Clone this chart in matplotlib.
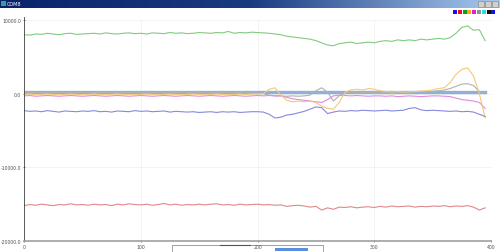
import numpy as np
import matplotlib
matplotlib.use("Agg")
import matplotlib.pyplot as plt
from matplotlib.patches import Rectangle
from matplotlib.colors import LinearSegmentedColormap

# ---------------- data ----------------
x_values = list(range(0, 400, 5))

ch_blue = [-2300, -2400, -2350, -2450, -2300, -2400, -2500, -2350, -2400, -2450, -2350,
           -2400, -2300, -2450, -2400, -2500, -2350, -2400, -2450, -2300, -2400,
           -2350, -2450, -2400, -2350, -2500, -2400, -2450, -2500, -2450, -2550,
           -2500, -2450, -2550, -2450, -2500, -2450, -2550, -2500, -2450, -2450,
           -2500, -2800, -3300, -3200, -2900, -2800, -2600, -2400, -2100, -1800,
           -1900, -2700, -2500, -2350, -2400, -2300, -2350, -2250, -2300, -2350,
           -2300, -2250, -2350, -2300, -2250, -2000, -1900, -2200, -2300, -2250,
           -2300, -2350, -2400, -2350, -2450, -2400, -2500, -2800, -3100]

ch_red = [-15200, -15050, -15150, -15000, -15100, -15200, -15050, -15100, -14950, -15100, -15050,
          -15150, -15000, -15100, -15050, -15200, -15000, -15100, -14950, -15050, -15100,
          -15000, -15150, -15050, -14900, -15100, -15000, -15150, -15050, -15100, -15000,
          -15100, -15000, -14950, -15100, -15050, -15150, -15000, -15100, -15050, -15000,
          -15100, -15050, -15150, -15100, -15300, -15200, -15150, -15250, -15400, -15300,
          -15800, -15500, -15700, -15400, -15450, -15350, -15500, -15400, -15350, -15450,
          -15300, -15400, -15250, -15350, -15300, -15250, -15400, -15300, -15350, -15250,
          -15300, -15200, -15350, -15250, -15300, -15200, -15400, -15800, -15500]

ch_green = [8000, 7950, 8100, 8050, 8200, 8100, 8000, 8150, 8200, 8050, 8100,
            8150, 8200, 8100, 8250, 8150, 8100, 8200, 8250, 8150, 8200,
            8100, 8250, 8200, 8150, 8300, 8200, 8250, 8150, 8200, 8300,
            8250, 8200, 8300, 8250, 8450, 8200, 8300, 8250, 8350, 8300,
            8250, 8200, 8100, 8000, 7800, 7700, 7600, 7500, 7400, 7200,
            6900, 6600, 6500, 6800, 6900, 7000, 6800, 6900, 7000, 6900,
            7100, 7200, 7100, 7300, 7200, 7300, 7200, 7400, 7300, 7400,
            7500, 7400, 7600, 8200, 9000, 9200, 8600, 8700, 7200]

ch_orange = [-100, -50, -150, -100, -50, -100, -150, -100, -50, -100, -150,
             -100, -50, -100, -150, -100, -50, -100, -100, -150, -100,
             -50, -100, -150, -100, -50, -100, -150, -100, -50, -100,
             -150, -100, -50, -100, -150, -100, -50, -100, -50, -50,
             0, 600, 800, -200, -900, -1100, -1000, -1100, -1000, -1200,
             -1700, -2000, -2100, -1200, 200, 500, 600, 500, 700, 600,
             400, 300, 200, 300, 200, 250, 300, 350, 400, 500,
             700, 800, 1500, 2600, 3300, 3500, 2400, 0, -3300]

ch_magenta = [-300, -250, -350, -300, -250, -300, -350, -300, -250, -300, -350,
              -300, -250, -300, -350, -300, -250, -300, -350, -300, -250,
              -300, -350, -300, -250, -300, -350, -300, -250, -300, -350,
              -300, -250, -300, -350, -300, -250, -300, -350, -300, -250,
              -300, -250, -300, -300, -500, -700, -800, -900, -1000, -1100,
              -1200, -800, -300, -200, -250, -300, -250, -300, -350, -300,
              -300, -350, -300, -400, -350, -300, -350, -400, -350, -300,
              -300, -350, -400, -600, -800, -900, -1000, -1200, -2000]

ch_gray = [150, 200, 150, 100, 150, 200, 150, 100, 150, 200, 150,
           100, 150, 200, 150, 100, 150, 200, 150, 100, 150,
           200, 150, 100, 150, 200, 150, 100, 150, 200, 150,
           100, 150, 200, 150, 100, 150, 200, 150, 100, 100,
           0, -200, -300, -300, -350, -300, -350, -300, -200, 400,
           800, 200, -1000, -300, 100, 150, 200, 150, 100, 150,
           200, 150, 100, 150, 200, 250, 200, 300, 250, 300,
           400, 500, 700, 1000, 1300, 1350, 1100, 300, 100]

ch_cyan = [250] * 80

ch_black = [100, 120, 80, 100, 110, 90, 100, 120, 80, 100, 110,
            90, 100, 120, 80, 100, 110, 90, 100, 120, 80,
            100, 110, 90, 100, 120, 80, 100, 110, 90, 100,
            120, 80, 100, 110, 90, 100, 120, 80, 100, 110,
            90, 100, 120, 80, 100, 110, 90, 100, 120, 80,
            100, 110, 90, 100, 120, 80, 100, 110, 90, 100,
            120, 80, 100, 110, 90, 100, 120, 80, 100, 110,
            90, 100, 120, 80, 100, 110, 90, 100, 120]

ch_blue2 = [200] * 80

y_ticks = [-20000, -10000, 0, 10000]
y_tick_labels = ["-20000.0", "-10000.0", "0.0", "10000.0"]
x_ticks = [0, 100, 200, 300, 400]
x_tick_labels = ["0", "100", "200", "300", "400"]
window_title = "COM8"

series = [
    (ch_blue2, "#9aa0e8", 0.8),
    (ch_black, "#505060", 0.7),
    (ch_cyan, "#8fb0d8", 2.4),
    (ch_gray, "#b0b0b0", 0.8),
    (ch_magenta, "#e08ae0", 0.8),
    (ch_orange, "#f5c878", 0.8),
    (ch_green, "#80cc80", 0.8),
    (ch_red, "#e08888", 0.8),
    (ch_blue, "#8888e0", 0.8),
]
legend_colors = ["#1010f0", "#f01010", "#10a010", "#ffa020", "#e020e0",
                 "#909090", "#20e0e0", "#101010", "#1010f0"]

# ---------------- figure ----------------
W, H = 500, 253
fig = plt.figure(figsize=(W / 100, H / 100), dpi=100)
fig.patch.set_facecolor("white")

# overlay (pixel coords) for window chrome
ov = fig.add_axes([0, 0, 1, 1])
ov.set_xlim(0, W)
ov.set_ylim(H, 0)
ov.axis("off")
grad = np.linspace(0, 1, 256).reshape(1, -1)
cmap = LinearSegmentedColormap.from_list("tb", ["#0a246a", "#1a3a80", "#a6caf0"])
ov.imshow(grad, extent=[0, W, 9, 0], aspect="auto", cmap=cmap, zorder=1)
ov.add_patch(Rectangle((1, 2), 5, 5, facecolor="#30a0a0", edgecolor="none", zorder=2))
ov.text(7, 4.6, window_title, color="white", fontsize=3.5, va="center", ha="left", zorder=3)
for bx in (478, 485, 492):
    ov.add_patch(Rectangle((bx, 1.5), 6, 6, facecolor="#d4d0c8", edgecolor="#808080",
                           linewidth=0.4, zorder=2))
for i, c in enumerate(legend_colors):
    ov.add_patch(Rectangle((453 + i * 4.8, 11), 4, 4, facecolor=c, edgecolor="none", zorder=2))
# scrollbar
ov.plot([172, 172, 323, 323], [252, 246, 246, 252], color="#909090", linewidth=0.6, zorder=2)
ov.plot([220, 250], [246.3, 246.3], color="#505050", linewidth=0.8, zorder=2)
ov.add_patch(Rectangle((275, 249), 33, 3, facecolor="#5a8ee0", edgecolor="none", zorder=2))

# main plot
ax = fig.add_axes([24 / W, 1 - 242 / H, (491 - 24) / W, (242 - 21) / H])
ax.set_facecolor("none")
ax.set_xlim(0, 400)
ax.set_ylim(-20000, 10000)
for data, color, lw in series:
    ax.plot(x_values[:len(data)], data, color=color, linewidth=lw)

ax.set_yticks(y_ticks)
ax.set_yticklabels(y_tick_labels)
ax.set_xticks(x_ticks)
ax.set_xticklabels(x_tick_labels)
ax.tick_params(axis="both", labelsize=3.3, colors="#505050", length=2, width=0.5, pad=1,
               direction="inout")
ax.grid(True, color="#eeeeee", linewidth=0.5)
for s in ("top", "right"):
    ax.spines[s].set_visible(False)
ax.spines["left"].set_color("#404040")
ax.spines["left"].set_linewidth(0.6)
ax.spines["left"].set_bounds(-20000, 10400)
ax.spines["bottom"].set_color("#a0a0a0")
ax.spines["bottom"].set_linewidth(1.2)

fig.savefig("out.png", dpi=100)
